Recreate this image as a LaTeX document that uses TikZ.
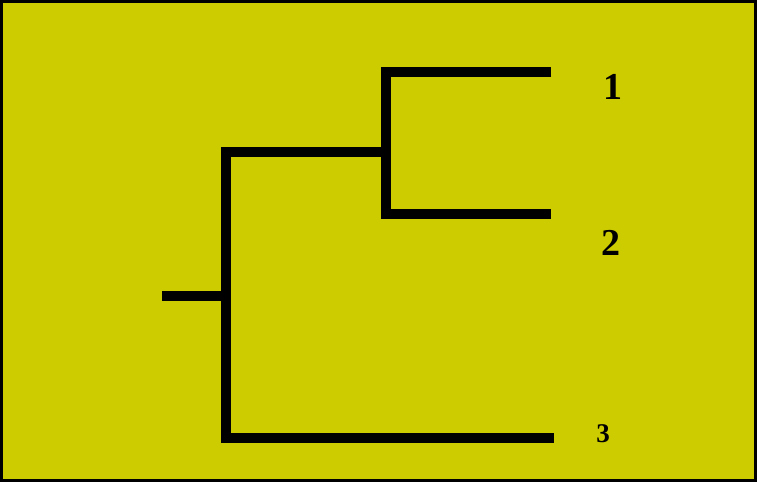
\documentclass[tikz,border=0pt]{standalone}
\usepackage{fontspec}
\setmainfont{Liberation Serif}
\usepackage{xcolor}
\usepackage{tikz}
\usetikzlibrary{positioning}
\definecolor{olive}{HTML}{CCCC00}
\definecolor{ink}{HTML}{000000}
\tikzset{
    every picture/.style={line join=miter},
    branch/.style={draw=ink,line width=10.5pt,line cap=butt},
    leaflabel/.style={text=ink,inner sep=0pt,font=\bfseries\fontsize{38}{40}\selectfont},
    smalllabel/.style={leaflabel,font=\bfseries\fontsize{27}{29}\selectfont}
}
\begin{document}
\begin{tikzpicture}[x=1pt,y=-1pt]
  \useasboundingbox (0,0) rectangle (757,482);
  \fill[olive] (0,0) rectangle (757,482);
  \draw[ink,line width=3pt] (1.5,1.5) rectangle (755.5,480.5);
  % tree junctions
  \coordinate (root) at (162,296);
  \coordinate (j0) at (226,296);
  \coordinate (j0t) at (226,152);
  \coordinate (j0b) at (226,438);
  \coordinate (j1) at (386,152);
  \coordinate (j1t) at (386,72);
  \coordinate (j1b) at (386,214);
  \coordinate (l1) at (551,72);
  \coordinate (l2) at (551,214);
  \coordinate (l3) at (554,438);
  \draw[branch] (root) -- (j0);
  \draw[branch] (j1) -- (j0t) -- (j0b) -- (l3);
  \draw[branch] (l1) -- (j1t) -- (j1b) -- (l2);
  % leaf labels
  \node[leaflabel] (t1) at (613,87) {1};
  \node[leaflabel] (t2) at (611,243) {2};
  \node[smalllabel] (t3) at (603,434) {3};
\end{tikzpicture}
\end{document}
